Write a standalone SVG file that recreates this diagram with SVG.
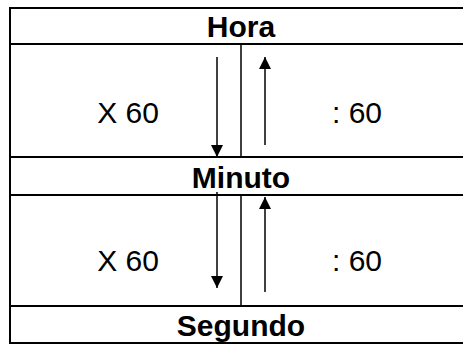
<svg xmlns="http://www.w3.org/2000/svg" width="463" height="345" viewBox="0 0 463 345">
<style>
.b{stroke:#000;stroke-width:2;fill:none}
.d{stroke:#000;stroke-width:1.5;fill:none}
.a{stroke:#000;stroke-width:1.5;fill:none;marker-end:url(#ah)}
.lbl{font-family:"Liberation Sans",Arial,sans-serif;font-weight:bold;font-size:30px;text-anchor:middle}
.op{font-family:"Liberation Sans",Arial,sans-serif;font-size:30px;text-anchor:middle}
</style>
<defs>
<marker id="ah" viewBox="0 0 10 10" refX="10" refY="5" markerWidth="14" markerHeight="12" markerUnits="userSpaceOnUse" orient="auto">
<path d="M0,0 L10,5 L0,10 z" fill="#000"/>
</marker>
</defs>
<rect width="463" height="345" fill="#fff"/>
<g id="table">
<path class="b" d="M470,8 H10 V343 H470"/>
<path class="b" d="M10,44 H470 M10,157 H470 M10,195 H470 M10,306 H470"/>
<path class="d" d="M241,44 V157 M241,195 V306"/>
</g>
<g id="hora"><text class="lbl" x="241" y="37">Hora</text></g>
<g id="minuto"><text class="lbl" x="241" y="188">Minuto</text></g>
<g id="segundo"><text class="lbl" x="241" y="336">Segundo</text></g>
<g id="ops">
<text class="op" x="128" y="123">X 60</text>
<text class="op" x="357" y="123">: 60</text>
<text class="op" x="128" y="271">X 60</text>
<text class="op" x="357" y="271">: 60</text>
</g>
<g id="connectors">
<path class="a" d="M217,57 V157"/>
<path class="a" d="M265,145 V57"/>
<path class="a" d="M217,192 V288"/>
<path class="a" d="M265,292 V197"/>
</g>
</svg>
